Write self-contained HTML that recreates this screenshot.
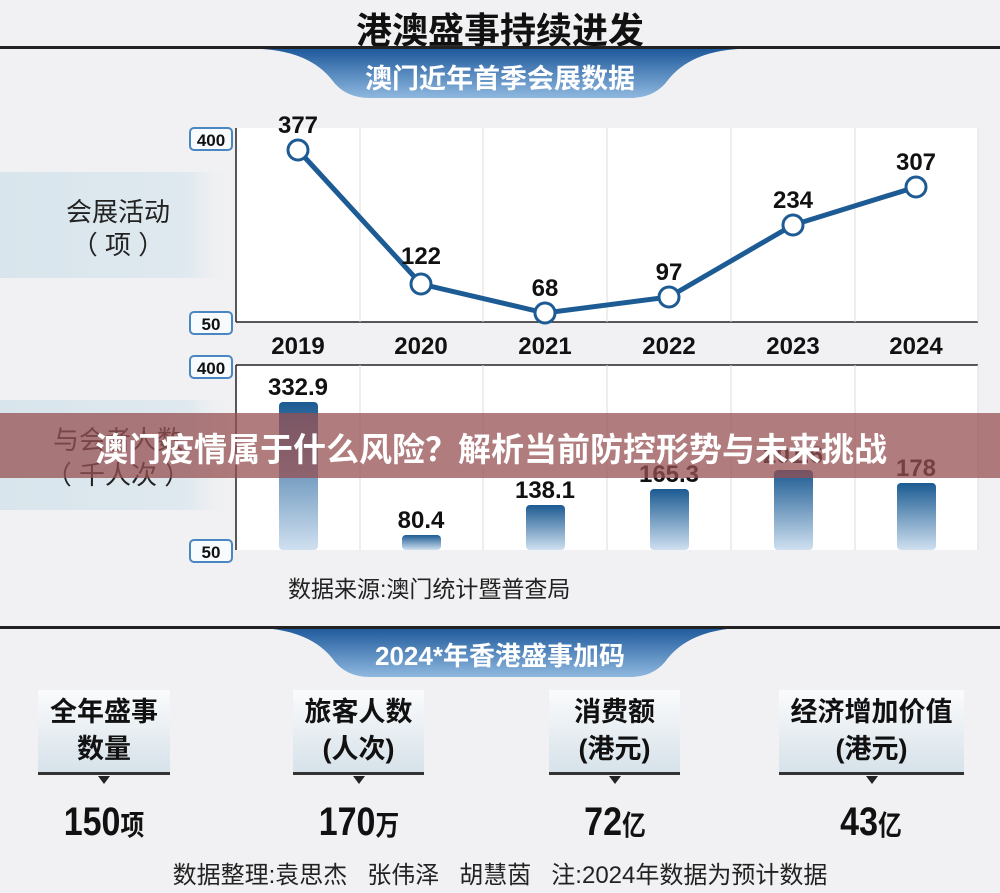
<!DOCTYPE html>
<html><head><meta charset="utf-8"><style>
body{margin:0;width:1000px;height:893px;background:#f1f1f3;position:relative;overflow:hidden;font-family:"Liberation Sans","Noto Sans CJK SC",sans-serif;}
.a{position:absolute;}
.t{white-space:nowrap;}
.box{position:absolute;top:690px;height:85px;background:linear-gradient(#fafbfc,#d7e2ea);border-bottom:3px solid #333;text-align:center;font-weight:bold;font-size:27px;line-height:37px;padding-top:4px;box-sizing:border-box;color:#111}
.box:after{content:"";position:absolute;left:50%;margin-left:-6px;bottom:-12px;border:6px solid transparent;border-top:8px solid #222;border-bottom:0}
.val{position:absolute;top:800px;font-weight:bold;font-size:40px;color:#111;text-align:center;transform:scaleX(.85)}
.val span{font-size:28px}
</style></head><body>
<div class="a t" style="left:0;width:1000px;top:2px;text-align:center;font-size:36px;font-weight:bold;color:#111">港澳盛事持续进发</div>
<div class="a" style="left:0;top:46px;width:1000px;height:3px;background:#222"></div>
<svg class="a" style="left:0;top:0" width="1000" height="893">
<defs>
<linearGradient id="tab" x1="0" y1="0" x2="0" y2="1"><stop offset="0" stop-color="#1f5a9c"/><stop offset="1" stop-color="#8fb8df"/></linearGradient>
<linearGradient id="bar" x1="0" y1="0" x2="0" y2="1"><stop offset="0" stop-color="#1c5b92"/><stop offset="1" stop-color="#cfe0f0"/></linearGradient>
<linearGradient id="band" x1="0" y1="0" x2="1" y2="0"><stop offset="0" stop-color="#d8e5ec"/><stop offset=".8" stop-color="#dfe9ef"/><stop offset="1" stop-color="#f1f1f3" stop-opacity="0"/></linearGradient>
</defs>
<path d="M262 49 L738 49 Q690 52 668 80 Q655 98 630 98 L370 98 Q345 98 332 80 Q310 52 262 49Z" fill="url(#tab)"/>
<path d="M262 628 L738 628 Q690 631 668 658 Q655 677 630 677 L370 677 Q345 677 332 658 Q310 631 262 628Z" fill="url(#tab)"/>
<rect x="0" y="172" width="235" height="106" fill="url(#band)"/>
<rect x="0" y="400" width="235" height="110" fill="url(#band)"/>
<rect x="236" y="128" width="742" height="194" fill="#fff"/>
<rect x="236" y="365" width="742" height="185" fill="#fff"/>
<g stroke="#222" stroke-width="1.5">
<line x1="236" y1="128" x2="236" y2="322"/><line x1="236" y1="322" x2="978" y2="322"/>
<line x1="236" y1="365" x2="236" y2="550"/><line x1="236" y1="365" x2="978" y2="365"/>
</g>
<g stroke="#ddd" stroke-width="1"><line x1="360" y1="128" x2="360" y2="322"/><line x1="483" y1="128" x2="483" y2="322"/><line x1="607" y1="128" x2="607" y2="322"/><line x1="731" y1="128" x2="731" y2="322"/><line x1="855" y1="128" x2="855" y2="322"/><line x1="978" y1="128" x2="978" y2="322"/>
<line x1="360" y1="365" x2="360" y2="550"/><line x1="483" y1="365" x2="483" y2="550"/><line x1="607" y1="365" x2="607" y2="550"/><line x1="731" y1="365" x2="731" y2="550"/><line x1="855" y1="365" x2="855" y2="550"/><line x1="978" y1="365" x2="978" y2="550"/></g>
<g fill="#f8fbfd" stroke="#4a86c0" stroke-width="2">
<rect x="190" y="128" width="42" height="22" rx="4"/><rect x="190" y="312" width="42" height="22" rx="4"/>
<rect x="190" y="356" width="42" height="22" rx="4"/><rect x="190" y="540" width="42" height="22" rx="4"/>
</g>
<g font-family="Liberation Sans" font-weight="bold" font-size="17" text-anchor="middle" fill="#111">
<text x="211" y="146">400</text><text x="211" y="330">50</text><text x="211" y="374">400</text><text x="211" y="558">50</text>
</g>
<polyline points="298,150 421,284 545,313 669,297 793,225 916,187" fill="none" stroke="#1d5b94" stroke-width="5"/>
<g fill="#fff" stroke="#1d5b94" stroke-width="3">
<circle cx="298" cy="150" r="10"/><circle cx="421" cy="284" r="10"/><circle cx="545" cy="313" r="10"/><circle cx="669" cy="297" r="10"/><circle cx="793" cy="225" r="10"/><circle cx="916" cy="187" r="10"/></g>
<g font-family="Liberation Sans" font-weight="bold" font-size="24" text-anchor="middle" fill="#111">
<text x="298" y="133">377</text><text x="421" y="264">122</text><text x="545" y="296">68</text><text x="669" y="280">97</text><text x="793" y="208">234</text><text x="916" y="170">307</text>
<text x="298" y="354">2019</text><text x="421" y="354">2020</text><text x="545" y="354">2021</text><text x="669" y="354">2022</text><text x="793" y="354">2023</text><text x="916" y="354">2024</text>
<text x="298" y="395">332.9</text><text x="421" y="528">80.4</text><text x="545" y="498">138.1</text><text x="669" y="482">165.3</text><text x="793" y="463">201.6</text><text x="916" y="476">178</text>
</g>
<g fill="url(#bar)">
<rect x="279" y="402" width="39" height="148" rx="4"/><rect x="402" y="535" width="39" height="15" rx="4"/><rect x="526" y="505" width="39" height="45" rx="4"/><rect x="650" y="489" width="39" height="61" rx="4"/><rect x="774" y="470" width="39" height="80" rx="4"/><rect x="897" y="483" width="39" height="67" rx="4"/>
</g>
<g font-family="Liberation Sans,Noto Sans CJK SC" font-size="26" text-anchor="middle" fill="#222">
<text x="118" y="221">会展活动</text><text x="118" y="254">（ 项 ）</text>
<text x="118" y="449">与会者人数</text><text x="118" y="484">（ 千人次 ）</text>
</g>
</svg>
<div class="a" style="left:0;top:413px;width:1000px;height:65px;background:rgba(150,80,82,.75)"></div>
<div class="a t" style="left:95px;top:423px;font-size:33px;font-weight:bold;color:#fff">澳门疫情属于什么风险？解析当前防控形势与未来挑战</div>
<div class="a t" style="left:0;width:1000px;top:57px;text-align:center;font-size:27px;font-weight:bold;color:#fff">澳门近年首季会展数据</div>
<div class="a t" style="left:0;width:1000px;top:636px;text-align:center;font-size:26px;font-weight:bold;color:#fff">2024*年香港盛事加码</div>
<div class="a t" style="left:288px;top:570px;font-size:23px;color:#222">数据来源:澳门统计暨普查局</div>
<div class="a" style="left:0;top:626px;width:1000px;height:3px;background:#222"></div>
<div class="box" style="left:38px;width:132px">全年盛事<br>数量</div>
<div class="box" style="left:293px;width:131px">旅客人数<br>(人次)</div>
<div class="box" style="left:549px;width:131px">消费额<br>(港元)</div>
<div class="box" style="left:779px;width:185px">经济增加价值<br>(港元)</div>
<div class="val" style="left:34px;width:140px">150<span>项</span></div>
<div class="val" style="left:289px;width:140px">170<span>万</span></div>
<div class="val" style="left:545px;width:140px">72<span>亿</span></div>
<div class="val" style="left:801px;width:140px">43<span>亿</span></div>
<div class="a t" style="left:0;width:1000px;top:855px;text-align:center;font-size:24px;color:#222">数据整理:袁思杰&nbsp;&nbsp;&nbsp;张伟泽&nbsp;&nbsp;&nbsp;胡慧茵&nbsp;&nbsp;&nbsp;注:2024年数据为预计数据</div>
</body></html>
